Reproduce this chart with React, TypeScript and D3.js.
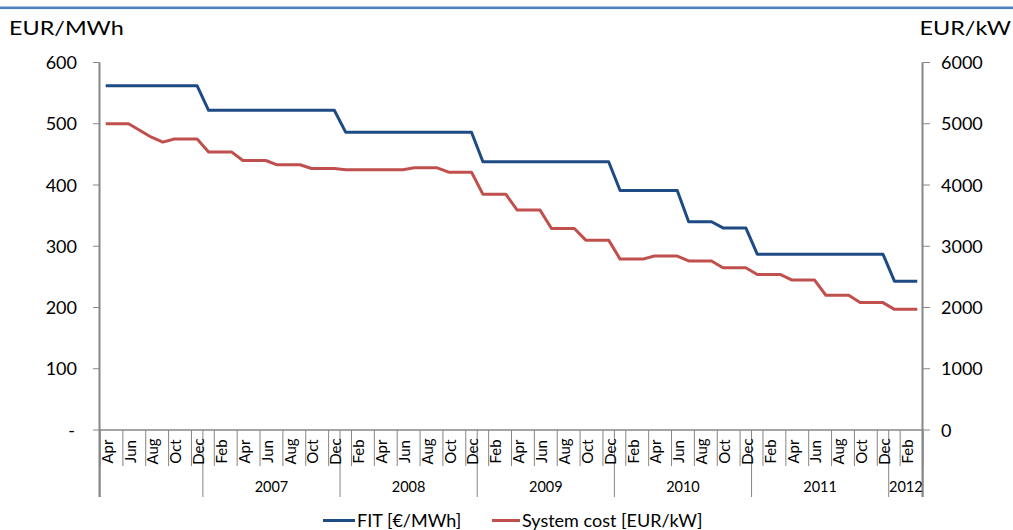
import React from 'react';
import * as d3 from 'd3';

// Monthly axis: Apr 2006 – Mar 2012
const monthNames = ['Jan', 'Feb', 'Mar', 'Apr', 'May', 'Jun', 'Jul', 'Aug', 'Sep', 'Oct', 'Nov', 'Dec'];
const startYear = 2006;
const startMonth = 3; // April
const monthCount = 72;

// Year band labels under the month labels (first band carries no label)
const yearBands = [
  { label: '', year: 2006 },
  { label: '2007', year: 2007 },
  { label: '2008', year: 2008 },
  { label: '2009', year: 2009 },
  { label: '2010', year: 2010 },
  { label: '2011', year: 2011 },
  { label: '2012', year: 2012 },
];

// Feed-in tariff, EUR/MWh (left axis)
const fitValues = [
  562, 562, 562, 562, 562, 562, 562, 562, 562,
  522, 522, 522, 522, 522, 522, 522, 522, 522, 522, 522, 522,
  486, 486, 486, 486, 486, 486, 486, 486, 486, 486, 486, 486,
  438, 438, 438, 438, 438, 438, 438, 438, 438, 438, 438, 438,
  391, 391, 391, 391, 391, 391, 340, 340, 340, 330, 330, 330,
  287, 287, 287, 287, 287, 287, 287, 287, 287, 287, 287, 287,
  243, 243, 243,
];

// System cost, EUR/kW (right axis)
const costValues = [
  5000, 5000, 5000, 4890, 4780, 4700, 4750, 4750, 4750,
  4540, 4540, 4540, 4400, 4400, 4400, 4330, 4330, 4330, 4270, 4270, 4270,
  4250, 4250, 4250, 4250, 4250, 4250, 4280, 4280, 4280, 4210, 4210, 4210,
  3850, 3850, 3850, 3590, 3590, 3590, 3290, 3290, 3290, 3100, 3100, 3100,
  2790, 2790, 2790, 2840, 2840, 2840, 2760, 2760, 2760, 2650, 2650, 2650,
  2540, 2540, 2540, 2450, 2450, 2450, 2200, 2200, 2200, 2080, 2080, 2080,
  1970, 1970, 1970,
];

const leftTicks = [0, 100, 200, 300, 400, 500, 600];
const rightTicks = [0, 1000, 2000, 3000, 4000, 5000, 6000];

const seriesNames = ['FIT [€/MWh]', 'System cost [EUR/kW]'];
const seriesColors = ['#1F4B84', '#C0504D'];

const categories = d3.range(monthCount).map((i) => {
  const m = startMonth + i;
  return { key: `${startYear + Math.floor(m / 12)}-${m % 12}`, year: startYear + Math.floor(m / 12), month: monthNames[m % 12] };
});

const FONT = "Lato, 'Open Sans', sans-serif";
const AXIS = '#868686';

export default function App() {
  const width = 1013;
  const height = 530;
  const plotLeft = 100;
  const plotRight = 923;
  const plotTop = 62.5;
  const plotBottom = 430;
  const tickBottom = 466;
  const bandBottom = 497;

  const x = d3.scaleBand<string>().domain(categories.map((c) => c.key)).range([plotLeft, plotRight]).padding(0);
  const bw = x.bandwidth();
  const cx = (i: number) => (x(categories[i].key) as number) + bw / 2;
  const yL = d3.scaleLinear().domain([0, 600]).range([plotBottom, plotTop]);
  const yR = d3.scaleLinear().domain([0, 6000]).range([plotBottom, plotTop]);

  const fitPath = d3.line<number>().x((_, i) => cx(i)).y((d) => yL(d))(fitValues) as string;
  const costPath = d3.line<number>().x((_, i) => cx(i)).y((d) => yR(d))(costValues) as string;

  // short ticks every two months from the left edge
  const shortTicks = d3.range(0, monthCount + 1, 2).map((i) => plotLeft + i * bw);

  // year band boundaries
  const bands = yearBands.map((b) => {
    const idx = categories.map((c, i) => (c.year === b.year ? i : -1)).filter((i) => i >= 0);
    const x0 = plotLeft + idx[0] * bw;
    const x1 = plotLeft + (idx[idx.length - 1] + 1) * bw;
    return { ...b, x0, x1 };
  });
  const bandEdges = Array.from(new Set(bands.flatMap((b) => [b.x0, b.x1])));

  return (
    <svg width={width} height={height} style={{ position: 'absolute', left: 0, top: 0, background: '#fff' }} fontFamily={FONT}>
      <rect x={0} y={0} width={width} height={height} fill="#fff" />
      <rect x={0} y={6.5} width={width} height={2.6} fill="#4F81BD" />

      {/* axis titles */}
      <text transform="translate(9,34.5) scale(1.2,1)" fontSize={19.5} fill="#000">EUR/MWh</text>
      <text transform="translate(1011,34.5) scale(1.2,1)" fontSize={19.5} fill="#000" textAnchor="end">EUR/kW</text>

      {/* left axis */}
      <line x1={plotLeft - 0.5} x2={plotLeft - 0.5} y1={plotTop} y2={bandBottom} stroke={AXIS} strokeWidth={2} />
      {leftTicks.map((t) => (
        <g key={`l${t}`}>
          <line x1={plotLeft - 7} x2={plotLeft - 0.5} y1={yL(t)} y2={yL(t)} stroke={AXIS} strokeWidth={1} />
          <text x={t === 0 ? 75 : 77} y={yL(t) + 6.5} fontSize={18} textAnchor="end" fill="#000">
            {t === 0 ? '-' : d3.format('d')(t)}
          </text>
        </g>
      ))}

      {/* right axis */}
      <line x1={plotRight - 0.5} x2={plotRight - 0.5} y1={plotTop} y2={bandBottom} stroke={AXIS} strokeWidth={2} />
      {rightTicks.map((t) => (
        <g key={`r${t}`}>
          <line x1={plotRight - 0.5} x2={plotRight + 7} y1={yR(t)} y2={yR(t)} stroke={AXIS} strokeWidth={1} />
          <text x={941} y={yR(t) + 6.5} fontSize={18} fill="#000">
            {d3.format('d')(t)}
          </text>
        </g>
      ))}

      {/* category axis */}
      <line x1={plotLeft} x2={plotRight} y1={plotBottom} y2={plotBottom} stroke={AXIS} strokeWidth={1.5} />
      {shortTicks.map((tx, i) => (
        <line key={`st${i}`} x1={tx} x2={tx} y1={plotBottom} y2={tickBottom} stroke={AXIS} strokeWidth={1} />
      ))}
      {bandEdges.map((ex, i) => (
        <line key={`be${i}`} x1={ex} x2={ex} y1={plotBottom} y2={bandBottom} stroke={AXIS} strokeWidth={1} />
      ))}
      {categories.map((c, i) =>
        i % 2 === 0 ? (
          <text
            key={`m${i}`}
            transform={`translate(${cx(i) + 7},451.5) rotate(-90)`}
            fontSize={15}
            textAnchor="middle"
            fill="#000"
          >
            {c.month}
          </text>
        ) : null
      )}
      {bands.map((b) => (
        <text key={`y${b.year}`} x={(b.x0 + b.x1) / 2} y={492} fontSize={14.5} textAnchor="middle" fill="#000">
          {b.label}
        </text>
      ))}

      {/* series */}
      <path d={costPath} fill="none" stroke={seriesColors[1]} strokeWidth={3} strokeLinejoin="round" />
      <path d={fitPath} fill="none" stroke={seriesColors[0]} strokeWidth={3} strokeLinejoin="round" />

      {/* legend */}
      <line x1={323} x2={355} y1={520.5} y2={520.5} stroke={seriesColors[0]} strokeWidth={3} />
      <text x={357} y={526.5} fontSize={18} fill="#000">{seriesNames[0]}</text>
      <line x1={492} x2={520} y1={520.5} y2={520.5} stroke={seriesColors[1]} strokeWidth={3} />
      <text x={522} y={526.5} fontSize={18} fill="#000">{seriesNames[1]}</text>
    </svg>
  );
}
